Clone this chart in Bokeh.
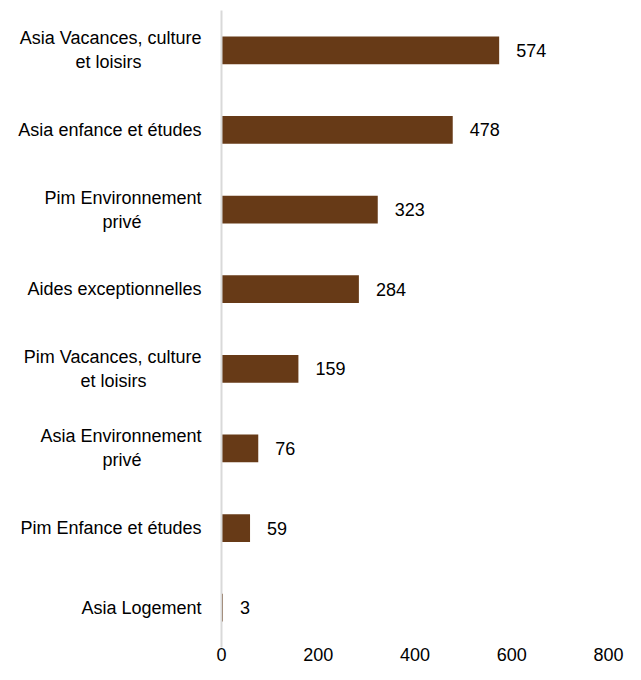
from bokeh.plotting import figure
from bokeh.models import Range1d, FactorRange, ColumnDataSource, FixedTicker
from bokeh.core.properties import value
from bokeh.embed import file_html
from bokeh.resources import INLINE

NB = "\u00a0"
categories = [
    "Asia Vacances, culture\net loisirs" + NB * 12,
    "Asia enfance et études",
    "Pim Environnement\nprivé" + NB * 12,
    "Aides exceptionnelles",
    "Pim Vacances, culture\net loisirs" + NB * 11,
    "Asia Environnement\nprivé" + NB * 12,
    "Pim Enfance et études",
    "Asia Logement",
]
values = [574, 478, 323, 284, 159, 76, 59, 3]
x_ticks = [0, 200, 400, 600, 800]

FONT = "Liberation Sans"
BAR = "#673A17"

src = ColumnDataSource(dict(cat=categories, val=values, lab=[str(v) for v in values]))

p = figure(width=625, height=664, output_backend="svg", toolbar_location=None,
           y_range=FactorRange(factors=categories[::-1], range_padding=0),
           x_range=Range1d(0, 800),
           min_border_left=221, min_border_right=17, min_border_top=10, min_border_bottom=17)
p.outline_line_color = None
p.grid.visible = False
p.background_fill_color = "white"
p.border_fill_color = "white"

p.hbar(y="cat", right="val", left=0, height=0.35, source=src, fill_color=BAR, line_color=None)
p.text(x="val", y="cat", text="lab", source=src, x_offset=17, text_baseline="middle",
       text_align="left", text_font=value(FONT), text_font_size="18px", text_color="#000000")

xa = p.xaxis[0]
xa.ticker = FixedTicker(ticks=x_ticks)
xa.axis_line_color = None
xa.major_tick_line_color = None
xa.minor_tick_line_color = None
xa.major_tick_out = 0
xa.major_tick_in = 0
xa.major_label_standoff = 0
xa.major_label_text_font = FONT
xa.major_label_text_font_size = "18px"
xa.major_label_text_color = "#000000"

ya = p.yaxis[0]
ya.axis_line_color = "#D9D9D9"
ya.axis_line_width = 2
ya.major_tick_line_color = None
ya.minor_tick_line_color = None
ya.major_tick_out = 0
ya.major_label_standoff = 20
ya.major_label_text_font = FONT
ya.major_label_text_font_size = "18px"
ya.major_label_text_color = "#000000"

open("out.html", "w").write(file_html(p, INLINE))
